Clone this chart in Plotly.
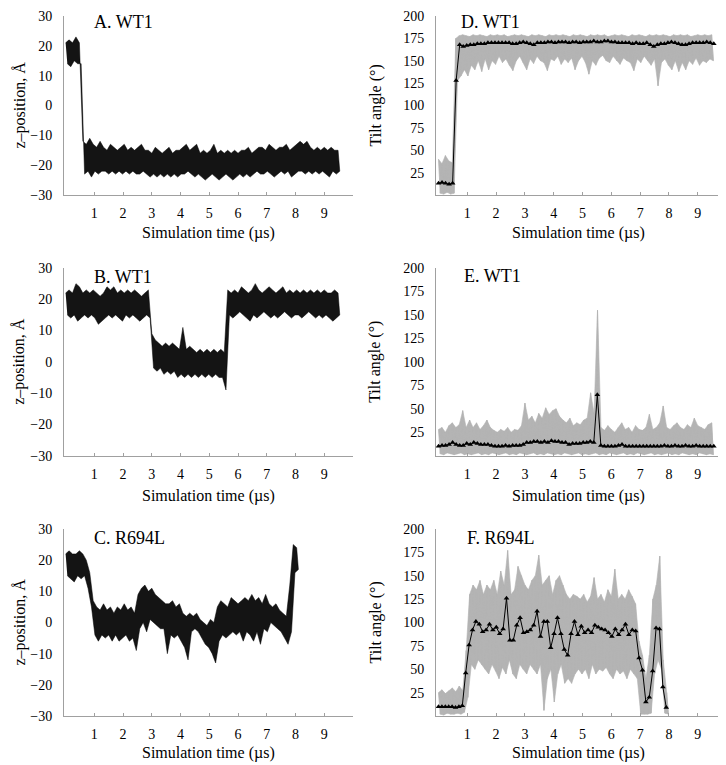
import plotly.graph_objects as go

# sampling step of the raw traces (µs); each sample holds the upper and lower edge of the trace
DT = 0.12

# A. WT1 z-position (Å)
a_hi = [21, 22, 21, 23, 21,
        -12, -13, -11, -13, -14, -12,
        -14, -15, -13, -14, -15, -14, -13, -15, -14, -15, -14, -13, -15,
        -15, -16, -14, -15, -16, -15, -14, -16, -15, -15,
        -14, -13, -15, -14, -13,
        -16, -15, -16, -15, -13, -16, -15, -16, -15, -16, -15, -16, -15,
        -15, -14, -16, -15, -14,
        -14, -15, -13, -14, -15, -14,
        -14, -13, -15, -14, -13,
        -12, -13, -12,
        -14, -15, -14, -15, -14, -15, -14, -15, -15]
a_lo = [14, 13, 15, 14, 14,
        -23, -22, -24, -22, -23, -22,
        -22, -23, -22, -23, -22, -23, -22, -23, -22, -23, -23, -22, -23,
        -24, -23, -24, -23, -24, -23, -24, -23, -24, -23,
        -23, -22, -23, -24, -23,
        -24, -25, -24, -23, -24, -25, -24, -23, -24, -25, -24, -23, -24,
        -23, -24, -23, -22, -23,
        -23, -22, -23, -24, -23, -22,
        -23, -22, -24, -23, -22,
        -22, -23, -22,
        -23, -22, -23, -22, -23, -24, -22, -23, -22]

# B. WT1 z-position (Å)
b_hi = [22, 23, 22, 25, 24, 22, 23, 22, 23, 22, 21, 22, 24, 23, 24, 22, 23, 22, 23, 22,
        23, 22, 21, 22, 23,
        9, 7, 6, 5, 6, 5, 6, 5, 4, 11, 4, 5, 4, 3, 4, 3, 4, 3, 4, 3, 4, 3,
        23, 22, 23, 22, 24, 23, 22, 23, 25, 23, 22, 23, 24, 23, 22, 23, 24, 22, 23, 22,
        23, 22, 23, 22, 23, 22, 23, 22, 23, 22, 22, 23, 22]
b_lo = [15, 14, 15, 13, 14, 15, 14, 15, 14, 12, 13, 14, 15, 14, 15, 14, 13, 15, 14, 15,
        14, 13, 14, 15, 14,
        -2, -3, -2, -4, -3, -4, -3, -5, -4, -5, -4, -5, -4, -5, -4, -5, -4, -5, -4, -5, -5, -9,
        15, 14, 15, 16, 15, 14, 13, 15, 14, 15, 16, 15, 14, 15, 14, 15, 16, 15, 14, 15,
        15, 14, 15, 16, 15, 14, 15, 14, 15, 14, 13, 14, 15]

# C. R694L z-position (Å)
c_hi = [22, 23, 22, 22, 23, 22, 20, 16, 7, 5, 4, 6, 4, 5, 3, 5, 4, 6, 4, 5,
        3, 9, 11, 12, 10, 11, 9, 8, 7, 6, 6, 7, 5, 6, 3, 2, 3, 2, 3, 1,
        0, -1, 1, 0, 5, 7, 6, 5, 8, 7, 6, 7, 8, 7, 9, 7, 8, 6, 9, 6,
        5, 6, 4, 3, 2, 12, 25, 24]
c_lo = [15, 14, 13, 15, 14, 15, 11, 5, -4, -6, -4, -5, -4, -6, -4, -6, -5, -4, -6, -5,
        -9, -2, 0, -3, 1, 0, -1, -2, -2, -10, -4, -5, -4, -6, -8, -12, -3, -2, -3, -5,
        -7, -8, -10, -13, -6, -4, -5, -4, -3, -4, -3, -6, -3, -4, -6, -3, -7, -2, -3, 0,
        -1, -2, -3, -5, -7, -3, 16, 17]

# D. WT1 tilt angle (°): raw trace edges and window means
d_hi = [40, 35, 44, 38, 36, 175,
        178, 179, 178, 177, 179, 178, 179, 178, 177, 179,
        178, 179, 178, 179, 177, 178, 179, 178, 179, 178,
        177, 179, 178, 179, 178, 177, 179, 178, 179, 178,
        179, 178, 177, 179, 178, 179, 178, 177, 179, 178,
        179, 178, 179, 177, 178, 179, 178, 179, 178, 177,
        179, 178, 179, 178, 177, 179, 178, 179, 178, 179,
        178, 177, 179, 178, 179, 178, 179, 177, 178, 179,
        178, 179, 178, 179]
d_lo = [2, 1, 3, 1, 2, 128, 133, 140, 133, 145, 140, 150, 138, 152, 140, 150, 146, 155, 148, 152,
        145, 139, 150, 155, 148, 140, 152, 147, 155, 150, 148, 139, 152, 150, 155, 146, 152, 148, 153, 140,
        150, 155, 148, 135, 150, 145, 153, 156, 150, 148, 155, 150, 146, 153, 150, 148, 139, 152, 148, 155,
        150, 145, 152, 122, 148, 152, 145, 140, 150, 138, 148, 140, 150, 146, 153, 145, 150, 148, 152, 150]
d_mean = [13, 14, 13, 12, 13, 128, 168, 166, 167,
          168, 168, 169, 169, 169, 170, 170, 170, 170, 170,
          170, 170, 169, 169, 170, 171, 170, 169, 168, 170,
          170, 170, 171, 171, 170, 171, 171, 171, 170, 171,
          171, 170, 171, 171, 171, 172, 171, 171, 172, 172,
          171, 171, 170, 170, 170, 170, 169, 170, 169, 169,
          170, 168, 166, 168, 169, 169, 170, 171, 170, 169,
          168, 168, 169, 170, 170, 170, 170, 171, 170, 169]

# E. WT1 tilt angle (°)
e_hi = [28, 30, 25, 32, 35, 30, 33, 48, 30,
        38, 30, 35, 28, 32, 38, 30, 27,
        25, 28, 26, 30, 25, 28, 27, 32,
        56,
        38, 42, 35, 45, 40, 51, 44, 48,
        50, 42, 38, 35, 40, 32, 35, 33,
        38, 40, 67, 45,
        155,
        30, 27, 32, 28, 25, 30, 35, 28,
        30, 25, 32, 28, 27, 30, 44, 28,
        30, 35, 53, 30, 28, 32, 35, 30,
        28, 33, 30, 40, 32, 30, 28, 33, 35]
e_lo = [2, 1, 3, 2, 1, 2, 3, 1, 2, 1,
        2, 3, 1, 2, 1, 3, 2, 1, 2, 3,
        1, 2, 1, 3, 2, 1, 2, 3, 1, 2,
        1, 3, 2, 1, 2, 1, 3, 2, 1, 2,
        3, 1, 2, 1, 2, 3, 1, 2, 1, 3,
        2, 1, 2, 3, 1, 2, 1, 3, 2, 1,
        2, 3, 1, 2, 1, 2, 3, 1, 2, 1,
        3, 2, 1, 2, 1, 3, 2, 1, 2, 1]
e_mean = [10, 11, 11, 12, 14, 12, 11, 11, 13, 12, 14,
          13, 12, 12, 12,
          11, 10, 10, 10, 11, 10, 11, 11, 11,
          12, 14, 14, 15, 15, 14, 15, 14, 16,
          15, 15, 14, 14, 12, 13, 13, 13,
          14, 14, 15, 14, 65, 11,
          10, 10, 10, 10, 11, 12, 10, 10, 10, 10,
          10, 10, 10, 10, 10, 10, 10, 11,
          10, 10, 11, 10, 10, 11, 10, 10,
          11, 10, 10, 10, 10, 10]

# F. R694L tilt angle (°)
f_hi = [25, 28, 24, 27, 30, 26, 32, 27, 70, 130, 140, 135, 145, 130, 140, 135, 145, 130, 155, 140,
        177, 130, 135, 160, 150, 140, 135, 145, 150, 172, 140, 145, 150, 130, 145, 150, 140, 130, 125, 130,
        128, 125, 130, 122, 128, 148, 125, 130, 122, 135, 128, 157, 125, 130, 125, 135, 128, 120, 80, 65,
        40, 65, 125, 140, 171, 60, 25]
f_lo = [2, 1, 3, 2, 2, 3, 2, 4, 20, 55, 50, 60, 55, 50, 45, 55, 48, 40, 52, 45,
        60, 45, 40, 55, 50, 45, 55, 50, 45, 55, 6, 40, 50, 15, 45, 55, 35, 40, 35, 45,
        50, 45, 50, 40, 55, 45, 50, 48, 52, 45, 40, 50, 45, 48, 40, 50, 45, 40, 2, 2,
        2, 3, 45, 60, 50, 3, 2]
f_mean = [10, 10, 10, 10, 10, 9, 10, 11, 46, 76, 92, 101, 98, 90, 92, 98, 92, 95, 88, 93,
          126, 81, 81, 97, 105, 89, 90, 92, 97, 112, 85, 101, 101, 73, 88, 105, 88, 71, 65, 88,
          101, 87, 96, 89, 92, 89, 97, 95, 93, 92, 89, 85, 93, 87, 92, 98, 87, 92, 91, 62,
          49, 15, 20, 48, 94, 93, 31, 9]

x_ticks = [1, 2, 3, 4, 5, 6, 7, 8, 9]
z_ticks = [-30, -20, -10, 0, 10, 20, 30]
tilt_ticks = [25, 50, 75, 100, 125, 150, 175, 200]

# the page body adds an 8px margin, so the figure is drawn 8px in from the window corner
OFF = 8
W, H = 726 - OFF, 765 - OFF
FONT = "Liberation Serif, Times New Roman, Times, serif"
GRAY_AX = "#a0a0a0"
GRAY_TRACE = "#b4b4b4"


def band(hi, lo):
    # raw trace drawn as a closed band between the top and bottom edge of each sample
    xs = [i * DT for i in range(len(hi))]
    xl = [i * DT + DT / 2 for i in range(len(lo))]
    return xs + xl[::-1], list(hi) + list(lo)[::-1]


def zigzag(hi, lo):
    xs, ys = [], []
    for i, (h, l) in enumerate(zip(hi, lo)):
        xs += [i * DT, i * DT + DT / 2]
        ys += [h, l]
    return xs, ys


def times(n, step):
    return [i * step for i in range(n)]


def px(x):
    return min(1, max(0, (x - OFF) / W))


def py(y):
    return min(1, max(0, 1 - (y - OFF) / H))


fig = go.Figure()

# left column: z-position clouds
for k, (hi, lo) in zip([1, 3, 5], [(a_hi, a_lo), (b_hi, b_lo), (c_hi, c_lo)]):
    xs, ys = band(hi, lo)
    fig.add_trace(go.Scatter(x=xs, y=ys, mode="lines", fill="toself", fillcolor="rgba(0,0,0,0.92)",
                             line=dict(color="black", width=0.5),
                             xaxis=f"x{k}", yaxis=f"y{k}", showlegend=False))

# right column: tilt angle raw trace + window means
for k, (hi, lo, mean, step) in zip([2, 4, 6], [(d_hi, d_lo, d_mean, 0.1225),
                                               (e_hi, e_lo, e_mean, 0.1225),
                                               (f_hi, f_lo, f_mean, 0.118)]):
    xs, ys = band(hi, lo)
    fig.add_trace(go.Scatter(x=xs, y=ys, mode="lines", fill="toself", fillcolor=GRAY_TRACE,
                             line=dict(color=GRAY_TRACE, width=0.6),
                             xaxis=f"x{k}", yaxis=f"y{k}", showlegend=False))
    xs, ys = zigzag(hi, lo)
    fig.add_trace(go.Scatter(x=xs, y=ys, mode="lines", line=dict(color=GRAY_TRACE, width=0.8),
                             xaxis=f"x{k}", yaxis=f"y{k}", showlegend=False))
    fig.add_trace(go.Scatter(x=times(len(mean), step), y=mean, mode="lines+markers",
                             line=dict(color="black", width=1),
                             marker=dict(symbol="triangle-up", size=5, color="black"),
                             xaxis=f"x{k}", yaxis=f"y{k}", showlegend=False))

# window-pixel boxes of the six panels
rows = [(16, 195), (268, 455.7), (529, 716)]
cols = [(64, 353), (436, 721.7)]
xranges = [[-0.056, 10.0], [-0.087, 9.83]]

layout = dict(width=W, height=H, margin=dict(l=0, r=0, t=0, b=0),
              template="none", plot_bgcolor="white", paper_bgcolor="white",
              font=dict(family=FONT, size=14, color="black"))
k = 1
for r, (top, bot) in enumerate(rows):
    for c, (left, right) in enumerate(cols):
        layout[f"xaxis{k}"] = dict(domain=[px(left), px(right)], range=xranges[c], anchor=f"y{k}",
                                   tickvals=x_ticks, ticks="inside", ticklen=3, tickcolor=GRAY_AX,
                                   showline=True, linecolor=GRAY_AX, linewidth=1, showgrid=False,
                                   zeroline=False, ticklabelstandoff=5, automargin=False,
                                   ticklabeloverflow="allow", tickfont=dict(family=FONT, size=14))
        yax = dict(domain=[py(bot), py(top)], anchor=f"x{k}", ticks="",
                   showline=True, linecolor=GRAY_AX, linewidth=1, showgrid=False,
                   zeroline=False, ticklabelstandoff=8, automargin=False,
                   ticklabeloverflow="allow", tickfont=dict(family=FONT, size=14))
        if c == 0:
            yax.update(range=[-30, 30], tickvals=z_ticks)
        else:
            yax.update(range=[0, 200], tickvals=tilt_ticks)
        layout[f"yaxis{k}"] = yax
        k += 1
fig.update_layout(**layout)

# panel labels and axis titles
labels = [("A. WT1", 92, 22), ("D. WT1", 459, 22),
          ("B. WT1", 92, 277), ("E. WT1", 462, 276),
          ("C. R694L", 92, 538), ("F. R694L", 465, 538)]
for text, lx, ly in labels:
    fig.add_annotation(text=text, x=px(lx), y=py(ly), xref="paper", yref="paper",
                       xanchor="left", yanchor="middle", showarrow=False,
                       font=dict(family=FONT, size=18))

for r, (top, bot) in enumerate(rows):
    xt_y = [233, 496, 753][r]
    for c, (left, right) in enumerate(cols):
        fig.add_annotation(text="Simulation time (µs)", x=px((left + right) / 2), y=py(xt_y),
                           xref="paper", yref="paper", xanchor="center", yanchor="middle",
                           showarrow=False, font=dict(family=FONT, size=16))
        ytitle = "z–position, Å" if c == 0 else "Tilt angle (°)"
        fig.add_annotation(text=ytitle, x=px([19, 375][c]), y=py((top + bot) / 2),
                           xref="paper", yref="paper", xanchor="center", yanchor="middle",
                           textangle=-90, showarrow=False, font=dict(family=FONT, size=16))

fig.write_html("out.html")
